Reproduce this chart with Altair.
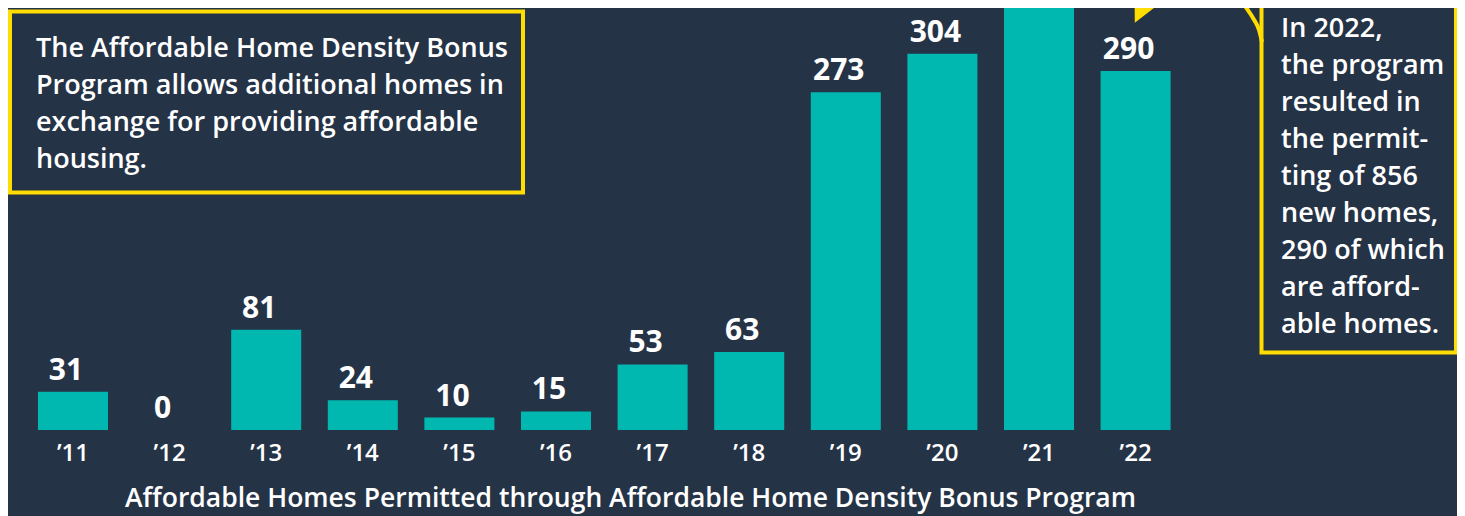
import altair as alt
import pandas as pd

# ---- data ----
years = ["’11", "’12", "’13", "’14", "’15", "’16", "’17", "’18", "’19", "’20", "’21", "’22"]
values = [31, 0, 81, 24, 10, 15, 53, 63, 273, 304, 380, 290]

x_title = "Affordable Homes Permitted through Affordable Home Density Bonus Program"
left_note = ["The Affordable Home Density Bonus", "Program allows additional homes in",
             "exchange for providing affordable", "housing."]
right_note = ["In 2022,", "the program", "resulted in", "the permit-", "ting of 856",
              "new homes,", "290 of which", "are afford-", "able homes."]

# annotation path (pixel space)
curve_x = [1254, 1251, 1245, 1237, 1228]
curve_y = [34, 22, 10, -2, -14]
shaft_x = [1134, 1146]
shaft_y = [0, -24]

BG = "#253346"
TEAL = "#00b8b0"
YELLOW = "#ffdd00"
FONT = "Open Sans"

df = pd.DataFrame({"year": years, "value": values})

xscale = alt.Scale(domain=years, range=[16.7, 1175.9], paddingInner=0.275, paddingOuter=0.1375)
yscale = alt.Scale(domain=[0, 341], nice=False, zero=True)

xaxis = alt.Axis(title=x_title, labelAngle=0, ticks=False, domain=False, grid=False,
                 labelFont=FONT, labelFontSize=24, labelFontWeight=600,
                 labelColor="white", labelPadding=11,
                 titleFont=FONT, titleFontSize=26.5, titleFontWeight=600,
                 titleColor="white", titleX=622, titleY=76,
                 titleBaseline="alphabetic", titleAlign="center")

bars = alt.Chart(df).mark_bar(color=TEAL, clip=True).encode(
    x=alt.X("year:N", sort=years, scale=xscale, axis=xaxis),
    y=alt.Y("value:Q", scale=yscale, axis=None),
)
labels = alt.Chart(df).mark_text(dx=-7, dy=-12, baseline="alphabetic", font=FONT, fontSize=30,
                                 fontWeight="bold", color="white").encode(
    x=alt.X("year:N", sort=years, scale=xscale, axis=None),
    y=alt.Y("value:Q", scale=yscale, axis=None),
    text="value:Q",
)

one = pd.DataFrame({"a": [0]})
box_left = alt.Chart(one).mark_rect(fill=BG, fillOpacity=0, stroke=YELLOW, strokeWidth=4).encode(
    x=alt.value(2), x2=alt.value(515), y=alt.value(3.5), y2=alt.value(184.5))
box_right = alt.Chart(one).mark_rect(fill=BG, fillOpacity=0, stroke=YELLOW, strokeWidth=4).encode(
    x=alt.value(1253.5), x2=alt.value(1448), y=alt.value(-20), y2=alt.value(344.5))

text_left = alt.Chart(one).mark_text(align="left", baseline="alphabetic", font=FONT, fontSize=27,
                                     fontWeight=600, color="white", lineHeight=37).encode(
    x=alt.value(28), y=alt.value(49), text=alt.value(left_note))
text_right = alt.Chart(one).mark_text(align="left", baseline="alphabetic", font=FONT, fontSize=27,
                                      fontWeight=600, color="white", lineHeight=37).encode(
    x=alt.value(1273), y=alt.value(29), text=alt.value(right_note))

curve = alt.Chart(pd.DataFrame({"px": curve_x, "py": curve_y, "o": range(len(curve_x))})).mark_line(
    color=YELLOW, strokeWidth=4, interpolate="monotone").encode(
    x=alt.X("px:Q", scale=None, axis=None), y=alt.Y("py:Q", scale=None, axis=None), order="o:O")
shaft = alt.Chart(pd.DataFrame({"px": shaft_x, "py": shaft_y, "o": [0, 1]})).mark_line(
    color=YELLOW, strokeWidth=4).encode(
    x=alt.X("px:Q", scale=None, axis=None), y=alt.Y("py:Q", scale=None, axis=None), order="o:O")
head = alt.Chart(pd.DataFrame({"px": [1132], "py": [4]})).mark_point(
    shape="M-1,-1L0,1L1,-1L0,-0.4Z", filled=True, color=YELLOW, opacity=1, size=560, angle=26).encode(
    x=alt.X("px:Q", scale=None, axis=None), y=alt.Y("py:Q", scale=None, axis=None))

chart = alt.layer(bars, labels, box_left, box_right, text_left, text_right, curve, shaft, head).resolve_scale(
    x="independent", y="independent"
).properties(
    width=1449, height=422, autosize=alt.AutoSizeParams(type="none"),
    padding={"left": 0, "top": 0, "right": 0, "bottom": 86},
    background=BG,
).configure_view(stroke=None)

chart.save("out.html", embed_options={"renderer": "svg", "actions": False})
